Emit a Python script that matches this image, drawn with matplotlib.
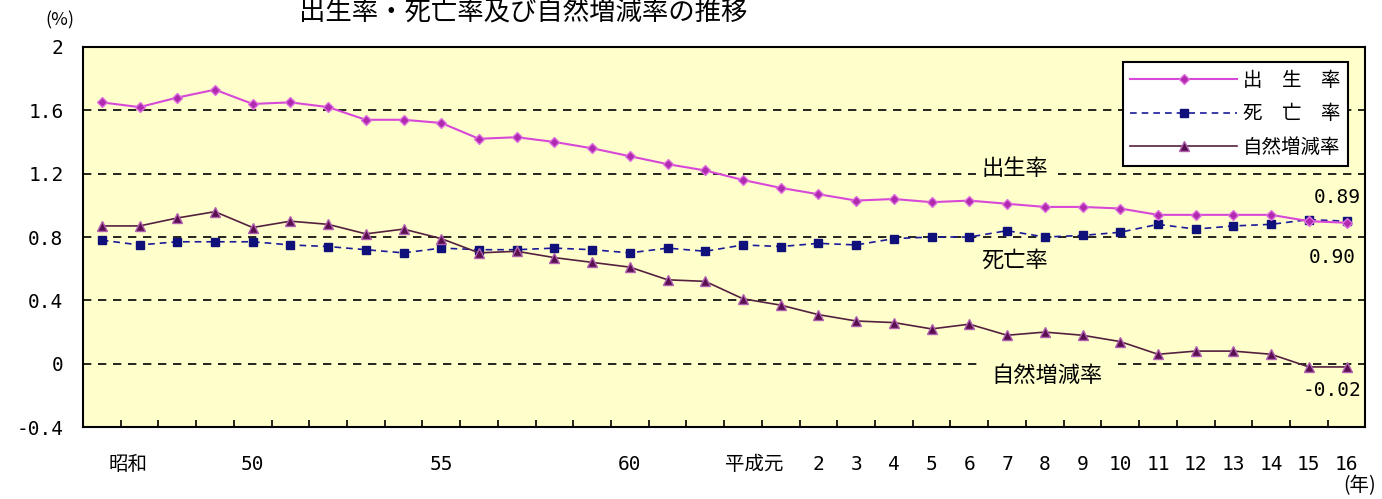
import matplotlib
matplotlib.use("Agg")
import matplotlib.pyplot as plt
import numpy as np

plt.rcParams['font.family'] = ['Noto Sans CJK JP', 'DejaVu Sans']

# 昭和46年〜平成16年 (34年分)
years = ['昭和46'] + [f'昭和{y}' for y in range(47, 64)] + [f'平成{y}' for y in range(1, 17)]

birth = [1.65, 1.62, 1.68, 1.73, 1.64, 1.65, 1.62, 1.54, 1.54, 1.52, 1.42, 1.43,
         1.40, 1.36, 1.31, 1.26, 1.22, 1.16, 1.11, 1.07, 1.03, 1.04, 1.02, 1.03,
         1.01, 0.99, 0.99, 0.98, 0.94, 0.94, 0.94, 0.94, 0.90, 0.89]
death = [0.78, 0.75, 0.77, 0.77, 0.77, 0.75, 0.74, 0.72, 0.70, 0.73, 0.72, 0.72,
         0.73, 0.72, 0.70, 0.73, 0.71, 0.75, 0.74, 0.76, 0.75, 0.79, 0.80, 0.80,
         0.84, 0.80, 0.81, 0.83, 0.88, 0.85, 0.87, 0.88, 0.91, 0.90]
natural = [0.87, 0.87, 0.92, 0.96, 0.86, 0.90, 0.88, 0.82, 0.85, 0.79, 0.70, 0.71,
           0.67, 0.64, 0.61, 0.53, 0.52, 0.41, 0.37, 0.31, 0.27, 0.26, 0.22, 0.25,
           0.18, 0.20, 0.18, 0.14, 0.06, 0.08, 0.08, 0.06, -0.02, -0.02]

x_label_pos = [0.7, 4, 9, 14, 17.3] + list(range(19, 34))
x_labels = ['昭和', '50', '55', '60', '平成元'] + [str(i) for i in range(2, 17)]
y_ticks = [-0.4, 0, 0.4, 0.8, 1.2, 1.6, 2]
y_labels = ['-0.4', '0', '0.4', '0.8', '1.2', '1.6', '2']

mono = ['DejaVu Sans Mono', 'Noto Sans CJK JP']
bg = '#FFFFCC'

fig = plt.figure(figsize=(13.82, 4.99), dpi=100)
ax = fig.add_axes([0.060, 0.144, 0.928, 0.762])
ax.set_facecolor(bg)

x = np.arange(len(years))

# グリッド (破線)
for g in [0, 0.4, 0.8, 1.2, 1.6]:
    ax.axhline(g, color='black', lw=1.2, ls=(0, (5, 4)), zorder=1)

ax.plot(x, birth, color='#D848D8', lw=1.5, marker='D', ms=5,
        mfc='#B02AB0', mec='#E070E0', label='出　生　率', zorder=4)
ax.plot(x, death, color='#1A1A9A', lw=1.2, ls=(0, (4, 3)), marker='s', ms=5.5,
        mfc='#10107A', mec='#10107A', label='死　亡　率', zorder=3)
ax.plot(x, natural, color='#552040', lw=1.2, marker='^', ms=7,
        mfc='#5A1050', mec='#B060B0', label='自然増減率', zorder=3)

ax.set_xlim(-0.5, 33.5)
ax.set_ylim(-0.4, 2)

ax.set_yticks(y_ticks)
ax.set_yticklabels(y_labels, family=mono, fontsize=14)
ax.tick_params(axis='y', length=0, pad=14)

ax.set_xticks(x_label_pos)
ax.set_xticklabels(x_labels, family=mono, fontsize=14)
ax.set_xticks(np.arange(0.5, 33.5, 1), minor=True)
ax.tick_params(axis='x', which='major', length=0, pad=20)
ax.tick_params(axis='x', which='minor', direction='in', length=5, width=1.2)

for s in ax.spines.values():
    s.set_linewidth(1.5)
    s.set_color('black')

# 系列名の注記
tb = dict(facecolor=bg, edgecolor='none', pad=4)
ax.text(24.2, 1.235, '出生率', fontsize=16, ha='center', va='center', bbox=tb, zorder=2)
ax.text(24.2, 0.655, '死亡率', fontsize=16, ha='center', va='center', bbox=tb, zorder=2)
ax.text(25.05, -0.075, '自然増減率', fontsize=16, ha='center', va='center',
        bbox=dict(facecolor=bg, edgecolor='none', pad=7), zorder=2)

ax.text(33.38, 1.05, '0.89', family=mono, fontsize=14, ha='right', va='center')
ax.text(33.25, 0.67, '0.90', family=mono, fontsize=14, ha='right', va='center')
ax.text(33.38, -0.17, '-0.02', family=mono, fontsize=14, ha='right', va='center')

leg = ax.legend(loc='upper right', bbox_to_anchor=(0.9867, 0.9605), borderaxespad=0,
                fontsize=14, handlelength=5.5, labelspacing=0.65, fancybox=False,
                framealpha=1, edgecolor='black', handletextpad=0.3)
leg.get_frame().set_linewidth(1.5)

fig.text(60 / 1382, 1 - 20 / 499, '(%)', fontsize=13, ha='center', va='center')
fig.text(523 / 1382, 1 - 13 / 499, '出生率・死亡率及び自然増減率の推移', fontsize=19,
         ha='center', va='center')
fig.text(1360 / 1382, 1 - 486 / 499, '(年)', fontsize=14, ha='center', va='center')

fig.savefig('out.png', dpi=100, facecolor='white')
